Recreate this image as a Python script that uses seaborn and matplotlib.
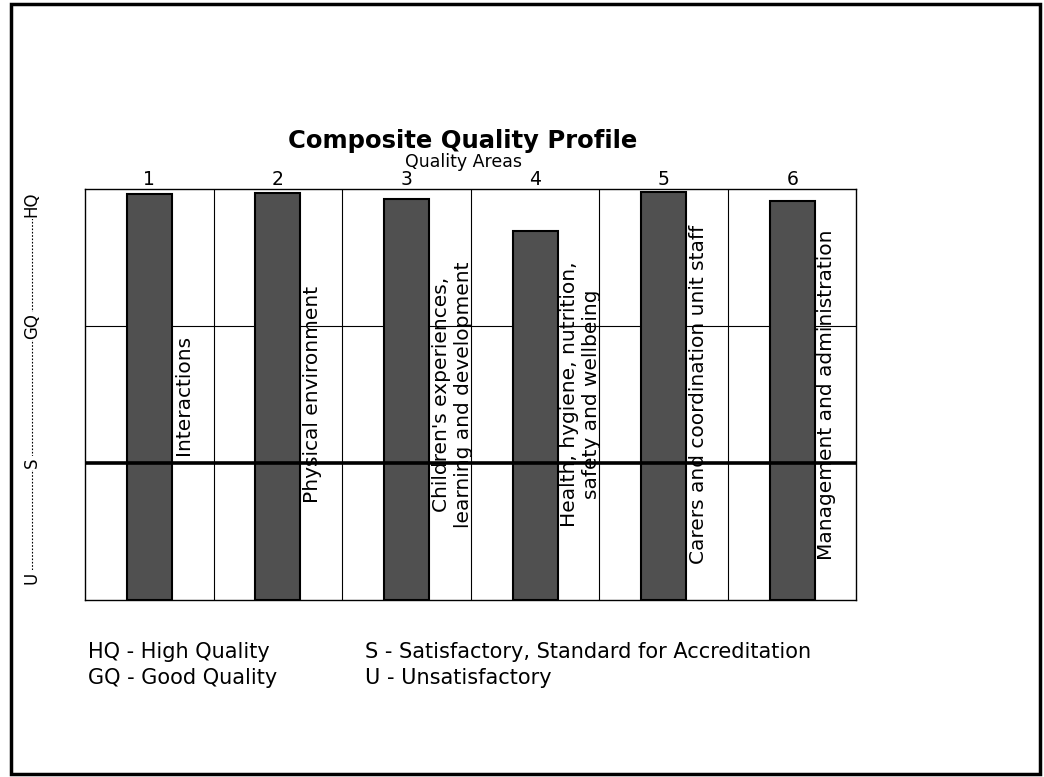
import matplotlib
matplotlib.use('Agg')
import matplotlib.pyplot as plt
import matplotlib.transforms as mtransforms
from matplotlib.patches import Rectangle
import seaborn as sns
import pandas as pd

# data
area_numbers = ['1', '2', '3', '4', '5', '6']
area_names = [
    'Interactions',
    'Physical environment',
    "Children's experiences,\nlearning and development",
    'Health, hygiene, nutrition,\nsafety and wellbeing',
    'Carers and coordination unit staff',
    'Management and administration',
]
scores = [2.96, 2.97, 2.93, 2.69, 2.98, 2.91]

level_codes = ['U', 'S', 'GQ', 'HQ']
level_values = [0, 1, 2, 3]

legend_left = ['HQ - High Quality', 'GQ - Good Quality']
legend_right = ['S - Satisfactory, Standard for Accreditation', 'U - Unsatisfactory']

df = pd.DataFrame({'area': area_numbers, 'score': scores})

sns.set_theme(style='white')
plt.rcParams['font.family'] = ['DejaVu Sans']

fig = plt.figure(figsize=(10.44, 7.77), dpi=100)
ax = fig.add_axes([0.0814, 0.2278, 0.739, 0.529])

bar_w = 0.35
sns.barplot(data=df, x='area', y='score', order=area_numbers, width=bar_w,
            color='#505050', saturation=1, edgecolor='black', linewidth=1.5,
            ax=ax, zorder=3)

ax.set_xlim(-0.5, 5.5)
ax.set_ylim(0, 3)

# column separators and level lines
for i in range(len(area_numbers) - 1):
    ax.axvline(i + 0.5, color='black', lw=0.8, zorder=1)
ax.axhline(2, color='black', lw=0.8, zorder=1)
ax.axhline(1, color='black', lw=2.6, zorder=4)

for sp in ax.spines.values():
    sp.set_color('black')
    sp.set_linewidth(1.0)

# area names next to each bar
for i, name in enumerate(area_names):
    ax.text(i + bar_w / 2 + 0.02, 1.5, name, rotation=90, ha='left', va='center',
            multialignment='center', fontsize=14.5, color='black', zorder=5)

# numbers on top
ax.xaxis.tick_top()
ax.set_xticks(range(len(area_numbers)))
ax.set_xticklabels(area_numbers, fontsize=13.5, color='black')
ax.tick_params(axis='x', length=0, pad=0)
ax.set_xlabel('')
ax.set_ylabel('')
ax.set_yticks([])

# level scale on the left
trans = mtransforms.blended_transform_factory(ax.transAxes, ax.transData)
lx = -0.069
ax.plot([lx, lx], [0.2, 2.9], transform=trans, clip_on=False,
        color='black', lw=0.8, ls=(0, (1.5, 1.5)))
for code, val in zip(level_codes, level_values):
    if code == 'U':
        y, va = val + 0.12, 'bottom'
    elif code == 'HQ':
        y, va = val - 0.02, 'top'
    else:
        y, va = val, 'center'
    ax.text(lx, y, code, transform=trans, rotation=90, ha='center', va=va,
            fontsize=12, color='black', clip_on=False,
            bbox=dict(facecolor='white', edgecolor='none', pad=1))

fig.text(0.4435, 0.8185, 'Composite Quality Profile', ha='center', va='center',
         fontsize=17.5, fontweight='bold', color='black')
fig.text(0.4435, 0.7915, 'Quality Areas', ha='center', va='center',
         fontsize=12.5, color='black')

for k in range(2):
    fig.text(0.0843, 0.161 - k * 0.034, legend_left[k], ha='left', va='center',
             fontsize=15, color='black')
    fig.text(0.3496, 0.161 - k * 0.034, legend_right[k], ha='left', va='center',
             fontsize=15, color='black')

# page border
fig.patches.append(Rectangle((0.0105, 0.004), 0.9856, 0.991, transform=fig.transFigure,
                             fill=False, edgecolor='black', lw=2.5))

fig.savefig('out.png', dpi=100)
